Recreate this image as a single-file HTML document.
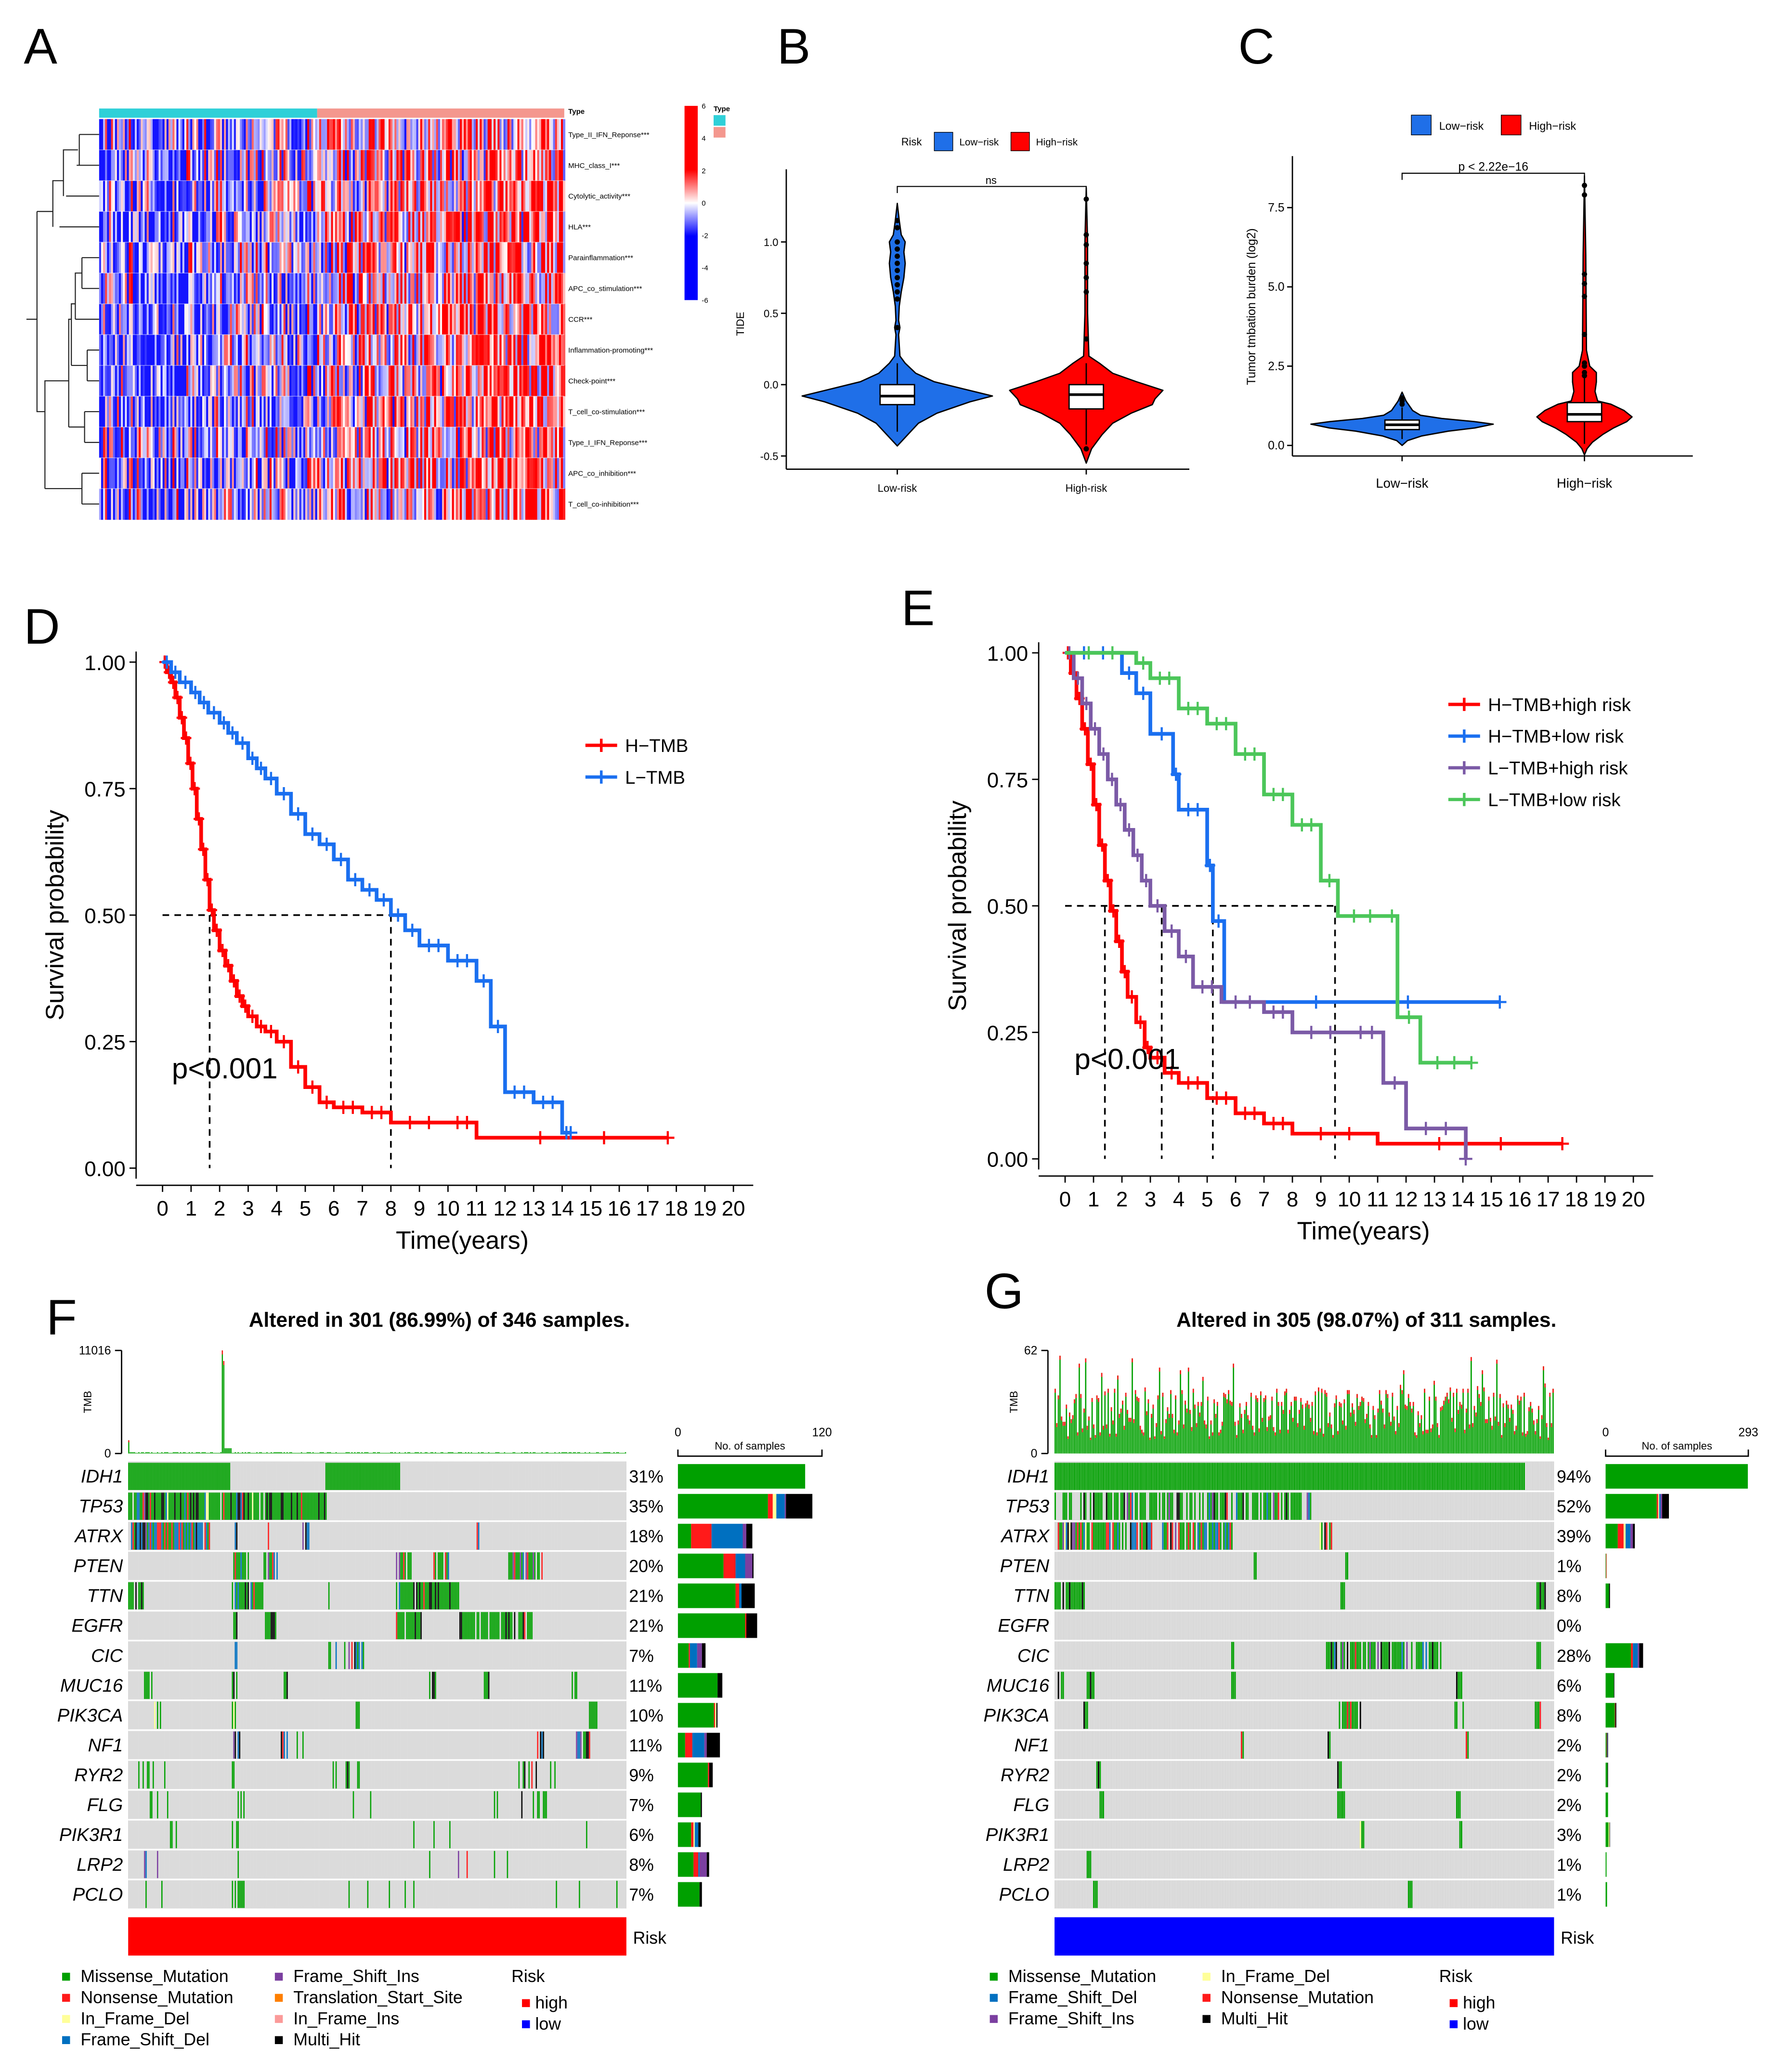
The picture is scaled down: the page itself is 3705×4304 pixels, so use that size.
<!DOCTYPE html>
<html><head><meta charset="utf-8">
<style>
html,body{margin:0;padding:0;background:#fff;}
svg{display:block;font-family:"Liberation Sans",Arial,sans-serif;}
</style></head>
<body>
<svg id="fig" width="3705" height="4304" viewBox="0 0 1350 1568" xmlns="http://www.w3.org/2000/svg">
<rect width="1350" height="1568" fill="#fff"/>
<text x="18" y="48" font-size="38">A</text>
<text x="588" y="48" font-size="38">B</text>
<text x="937" y="48" font-size="38">C</text>
<text x="18" y="487" font-size="38">D</text>
<text x="682" y="473" font-size="38">E</text>
<text x="35" y="1010" font-size="38">F</text>
<text x="745" y="990" font-size="38">G</text>
<g id="gA"></g>
<g id="gB"></g>
<g id="gC"></g>
<g id="gD"></g>
<g id="gE"></g>
<g id="gF"></g>
<g id="gG"></g>
</svg>
<script>
// ---------- data ----------
const heatRows=["Type_II_IFN_Reponse***","MHC_class_I***","Cytolytic_activity***","HLA***","Parainflammation***","APC_co_stimulation***","CCR***","Inflammation-promoting***","Check-point***","T_cell_co-stimulation***","Type_I_IFN_Reponse***","APC_co_inhibition***","T_cell_co-inhibition***"];
const heatLowMean=[-1.2,-1.0,-1.3,-1.4,-1.1,-1.3,-1.2,-1.3,-1.4,-1.3,-0.9,-1.3,-1.4];
const heatHighMean=[1.1,1.0,1.2,1.3,1.0,1.2,1.1,1.2,1.3,1.2,0.9,1.2,1.3];
const heatTicks=[6,4,2,0,-2,-4,-6];
const bTicks=[1.0,0.5,0.0,-0.5];
const cTicks=[7.5,5.0,2.5,0.0];
const dTicks=[0,0.25,0.5,0.75,1.0];
const years=[...Array(21).keys()];
const kmD_H_t=[0,0.15,0.3,0.45,0.6,0.75,0.9,1.05,1.2,1.35,1.5,1.65,1.8,2,2.2,2.4,2.6,2.8,3,3.3,3.6,4,4.5,5,5.5,6,7,8,10,11,17.7];
const kmD_H_s=[1,0.98,0.96,0.93,0.89,0.85,0.8,0.75,0.69,0.63,0.57,0.51,0.47,0.43,0.4,0.37,0.34,0.32,0.3,0.28,0.27,0.25,0.2,0.16,0.13,0.12,0.11,0.09,0.09,0.06,0.06];
const kmD_L_t=[0,0.3,0.6,1,1.3,1.6,2,2.3,2.6,3,3.3,3.6,4,4.5,5,5.5,6,6.5,7,7.5,8,8.5,9,10,11,11.5,12,13,14,14.3];
const kmD_L_s=[1,0.98,0.96,0.94,0.92,0.9,0.88,0.86,0.84,0.81,0.79,0.77,0.74,0.7,0.66,0.64,0.61,0.57,0.55,0.53,0.5,0.47,0.44,0.41,0.37,0.28,0.15,0.13,0.07,0.07];
const kmE_HH_t=[0,0.2,0.4,0.6,0.8,1,1.2,1.4,1.6,1.8,2,2.2,2.5,2.8,3,3.5,4,5,6,7,8,11,17.5];
const kmE_HH_s=[1,0.96,0.91,0.85,0.78,0.7,0.62,0.55,0.49,0.43,0.37,0.32,0.27,0.22,0.2,0.17,0.15,0.12,0.09,0.07,0.05,0.03,0.03];
const kmE_HL_t=[0,2,2.5,3,3.8,4,5,5.2,5.6,15.3];
const kmE_HL_s=[1,0.96,0.92,0.84,0.76,0.69,0.58,0.47,0.31,0.31];
const kmE_LH_t=[0,0.3,0.6,0.9,1.2,1.5,1.8,2.1,2.4,2.7,3,3.5,4,4.5,5.5,7,8,10,11.2,12,14.1];
const kmE_LH_s=[1,0.95,0.9,0.85,0.8,0.75,0.7,0.65,0.6,0.55,0.5,0.45,0.4,0.34,0.31,0.29,0.25,0.25,0.15,0.06,0.0];
const kmE_LL_t=[0,2.5,3,4,5,6,7,8,9,9.6,11.3,11.7,12.5,14.3];
const kmE_LL_s=[1,0.98,0.95,0.89,0.86,0.8,0.72,0.66,0.55,0.48,0.48,0.28,0.19,0.19];
const genes=["IDH1","TP53","ATRX","PTEN","TTN","EGFR","CIC","MUC16","PIK3CA","NF1","RYR2","FLG","PIK3R1","LRP2","PCLO"];
const pctF=["31%","35%","18%","20%","21%","21%","7%","11%","10%","11%","9%","7%","6%","8%","7%"];
const pctG=["94%","52%","39%","1%","8%","0%","28%","6%","8%","2%","2%","2%","3%","1%","1%"];
const sideF=[[106,0,0,0,0,0],[75,4,3,7,1,22],[11,17,0,26,3,5],[38,10,0,8,6,1],[48,3,0,2,0,11],[56,1,0,0,0,9],[9,1,0,6,4,3],[33,0,0,0,0,4],[30,1,1,0,0,1],[6,6,0,10,2,11],[25,1,0,0,0,3],[19,0,0,0,0,1],[11,2,1,3,0,2],[13,4,0,1,6,2],[18,0,0,0,0,2]];
const sideG=[[292,0,0,0,0,0],[105,3,2,3,3,14],[25,12,4,10,5,4],[1,1,0,0,0,0],[7,0,0,0,0,2],[0,0,0,0,0,0],[52,4,0,10,3,8],[17,0,0,0,0,1],[19,1,0,0,0,2],[2,1,0,1,0,1],[4,0,0,0,0,1],[5,0,0,0,0,0],[6,0,2,0,0,1],[2,0,0,0,0,0],[3,0,0,0,0,0]];
const blocksF=[[[0,70,1],[137,188,1]],[[0,137,0.95]],[[0,56,0.9],[72,75,0.8],[96,100,0.6],[116,125,0.5],[242,243,1]],[[72,83,0.6],[94,104,0.8],[186,196,0.8],[212,224,0.7],[264,287,0.8]],[[0,10,0.9],[72,93,0.9],[137,142,0.6],[186,230,0.9]],[[72,75,0.6],[95,102,0.9],[186,203,0.9],[230,280,0.9]],[[72,75,0.6],[139,170,0.35]],[[11,16,0.7],[72,75,0.5],[106,110,0.3],[207,213,0.5],[245,250,0.5],[307,311,0.5]],[[18,22,0.7],[72,75,0.5],[155,160,0.5],[319,326,0.8]],[[72,78,0.4],[106,124,0.3],[284,290,0.6],[311,320,0.6]],[[6,25,0.2],[72,75,0.5],[140,160,0.2],[270,300,0.2]],[[4,30,0.15],[72,80,0.4],[150,170,0.2],[250,290,0.15]],[[20,40,0.15],[72,80,0.3],[180,230,0.1],[290,320,0.1]],[[10,20,0.2],[72,80,0.4],[200,270,0.12]],[[10,30,0.1],[72,80,0.6],[150,200,0.12],[280,340,0.05]]];
const blocksG=[[[0,292,1]],[[0,160,0.65]],[[0,110,0.75],[165,172,0.7]],[[124,125,1],[181,182,1]],[[0,18,0.9],[178,180,1],[300,305,0.8]],[],[[110,111,1],[168,240,0.7],[298,304,0.6]],[[2,5,0.8],[20,24,0.6],[110,112,1],[250,253,1]],[[18,20,1],[177,190,0.7],[249,254,0.5],[298,302,0.6]],[[116,117,1],[170,171,1],[256,257,1]],[[26,28,1],[176,178,1]],[[28,30,1],[176,180,1],[250,252,1]],[[190,192,1],[250,254,0.6]],[[20,22,1]],[[24,26,1],[220,222,1]]];
const typeColors=["#00A000","#FF1A1A","#FFFF99","#0070C0","#7B3FA0","#000000"];

const NS="http://www.w3.org/2000/svg";
function el(parent,tag,attrs,txt){const e=document.createElementNS(NS,tag);for(const k in attrs)e.setAttribute(k,attrs[k]);if(txt!==undefined)e.textContent=txt;parent.appendChild(e);return e;}
function hash(a,b){let h=(a*374761393+b*668265263)^0x5bd1e995;h=(h^(h>>>13))*1274126177;h=h^(h>>>16);return ((h>>>0)%10000)/10000;}

(function(){
 const g=document.getElementById('gA');
 const x0=75,x1=427,yTop=90,yBot=393,split=240;
 const rh=(yBot-yTop)/heatRows.length;
 let r=el(g,'rect',{x:x0,y:82,width:split-x0,height:7,fill:'#2FD0D8'});
 
 r=el(g,'rect',{x:split,y:82,width:x1-split,height:7,fill:'#F4978E'});
 
 const cw=1.5;const ncol=Math.round((x1-x0)/cw);
 function col(v){v=Math.max(-6,Math.min(6,v));let t=Math.min(1,Math.abs(v)/2.2);
  if(v>=0)return `rgb(255,${Math.round(255*(1-t))},${Math.round(255*(1-t))})`;
  return `rgb(${Math.round(255*(1-t)*0.9+20*t)},${Math.round(255*(1-t)*0.9+20*t)},255)`;}
 heatRows.forEach((name,i)=>{
  const gr=el(g,'g',{});
  
  for(let c=0;c<ncol;c++){
   const x=x0+c*cw;const hi=x>=split;
   const prog=hi?(x-split)/(x1-split):(x-x0)/(split-x0);
   const base=hi?heatHighMean[i]*(0.3+prog*0.9):heatLowMean[i]*(1-prog*0.5);
   const v=base+(hash(c,i)-0.5)*5+(hash(c,99)-0.5)*2.5;
   el(gr,'rect',{x:x.toFixed(2),y:(yTop+i*rh).toFixed(2),width:cw+0.3,height:rh+0.3,fill:col(v)});
  }
  const t=el(g,'text',{x:430,y:yTop+i*rh+rh/2+2,'font-size':5.5},name);
  
 });
 for(let i=1;i<heatRows.length;i++)el(g,'line',{x1:x0,x2:x1,y1:yTop+i*rh,y2:yTop+i*rh,stroke:'#fff','stroke-width':0.5,opacity:0.5});
 const yc=i=>yTop+i*rh+rh/2;
 const d=el(g,'path',{fill:'none',stroke:'#222','stroke-width':0.8,
  d:`M75 ${yc(0)}H60M75 ${yc(1)}H58M60 ${yc(0)}V${yc(1)}M75 ${yc(2)}H50M59 ${(yc(0)+yc(1))/2}H48V${yc(2)}M75 ${yc(3)}H45M48 ${(yc(1)+yc(2))/2}H40V${yc(3)}
  M75 ${yc(4)}H62M75 ${yc(5)}H62M62 ${yc(4)}V${yc(5)}M75 ${yc(6)}H57M62 ${(yc(4)+yc(5))/2}H57V${yc(6)}M75 ${yc(7)}H66M75 ${yc(8)}H66M66 ${yc(7)}V${yc(8)}M66 ${(yc(7)+yc(8))/2}H54M57 ${(yc(5)+yc(6))/2}H54V${(yc(7)+yc(8))/2}
  M75 ${yc(9)}H64M75 ${yc(10)}H64M64 ${yc(9)}V${yc(10)}M64 ${(yc(9)+yc(10))/2}H52M54 ${yc(6)}H52V${(yc(9)+yc(10))/2}
  M75 ${yc(11)}H62M75 ${yc(12)}H62M62 ${yc(11)}V${yc(12)}M62 ${(yc(11)+yc(12))/2}H34M52 ${yc(8)}H34V${(yc(11)+yc(12))/2}
  M40 ${(yc(2)+yc(3))/2}H28M34 ${yc(9)}H28V${(yc(2)+yc(3))/2}M28 ${yc(6)}H20`});
 
 el(g,'text',{x:430,y:86,'font-size':5.5,'font-weight':'bold'},'Type');
 const defs=el(g,'defs',{});
 const lg=el(defs,'linearGradient',{id:'hg',x1:0,y1:0,x2:0,y2:1});
 [['0','#FF0000'],['0.33','#FF0000'],['0.5','#FFFFFF'],['0.67','#0000FF'],['1','#0000FF']].forEach(s=>el(lg,'stop',{offset:s[0],'stop-color':s[1]}));
 const cb=el(g,'rect',{x:518,y:80,width:10,height:147,fill:'url(#hg)'});
 
 heatTicks.forEach(v=>{const y=80+(6-v)/12*147;el(g,'text',{x:531,y:y+2,'font-size':5.5},String(v));});
 el(g,'text',{x:540,y:84,'font-size':5.5,'font-weight':'bold'},'Type');
 el(g,'rect',{x:540,y:87,width:9,height:8,fill:'#2FD0D8'});
 el(g,'rect',{x:540,y:96,width:9,height:8,fill:'#F4978E'});
})();

function violin(g,cx,ys,prof,fill,name){
 let l='',r='';prof.forEach((p,i)=>{l+=(i?'L':'M')+(cx-p[1]).toFixed(1)+' '+ys(p[0]).toFixed(1);});
 for(let i=prof.length-1;i>=0;i--)r+='L'+(cx+prof[i][1]).toFixed(1)+' '+ys(prof[i][0]).toFixed(1);
 const p=el(g,'path',{d:l+r+'Z',fill:fill,stroke:'#000','stroke-width':1,'stroke-linejoin':'round'});
 
}
function boxp(g,cx,ys,lo,q1,med,q3,hi,w,name){
 el(g,'line',{x1:cx,x2:cx,y1:ys(lo),y2:ys(hi),stroke:'#000','stroke-width':1});
 const b=el(g,'rect',{x:cx-w/2,y:ys(q3),width:w,height:ys(q1)-ys(q3),fill:'#fff',stroke:'#000','stroke-width':1});
 
 el(g,'line',{x1:cx-w/2,x2:cx+w/2,y1:ys(med),y2:ys(med),stroke:'#000','stroke-width':2});
}
(function(){
 const g=document.getElementById('gB');const ys=v=>291-v*108;
 el(g,'line',{x1:595,x2:595,y1:128,y2:355,stroke:'#000'});
 el(g,'line',{x1:595,x2:900,y1:355,y2:355,stroke:'#000'});
 bTicks.forEach(v=>{el(g,'line',{x1:591,x2:595,y1:ys(v),y2:ys(v),stroke:'#000'});el(g,'text',{x:589,y:ys(v)+3,'font-size':8,'text-anchor':'end'},v.toFixed(1));});
 el(g,'text',{x:563,y:245,'font-size':8,transform:'rotate(-90 563 245)','text-anchor':'middle'},'TIDE');
 [[679,'Low-risk'],[822,'High-risk']].forEach(a=>{el(g,'line',{x1:a[0],x2:a[0],y1:355,y2:359,stroke:'#000'});el(g,'text',{x:a[0],y:372,'font-size':8,'text-anchor':'middle'},a[1]);});
 violin(g,679,ys,[[1.27,0],[1.15,1.5],[1.05,3],[1.0,6],[0.93,5],[0.85,6],[0.75,5],[0.65,3],[0.55,1.5],[0.45,1],[0.4,2],[0.35,1],[0.2,2],[0.15,6],[0.08,14],[0.02,28],[-0.03,50],[-0.08,72],[-0.12,55],[-0.2,30],[-0.27,16],[-0.35,8],[-0.43,0]],'#1f6fe8','violin-low-risk');
 violin(g,822,ys,[[1.38,0],[1.0,1],[0.5,1],[0.2,2],[0.15,10],[0.08,20],[0.02,38],[-0.04,58],[-0.1,52],[-0.14,50],[-0.2,34],[-0.27,20],[-0.35,12],[-0.45,4],[-0.55,0]],'#FF0000','violin-high-risk');
 boxp(g,679,ys,-0.33,-0.14,-0.08,0.0,0.15,26,'box-low-risk');
 boxp(g,822,ys,-0.42,-0.17,-0.07,0.0,0.15,26,'box-high-risk');
 [0.6,0.65,0.7,0.75,0.8,0.85,0.9,0.95,1.0,1.1,1.15,0.4].forEach(v=>el(g,'circle',{cx:679,cy:ys(v),r:2,fill:'#000'}));
 [1.3,1.05,0.98,0.85,0.75,0.65,0.32,-0.45].forEach(v=>el(g,'circle',{cx:822,cy:ys(v),r:2,fill:'#000'}));
 el(g,'path',{d:'M679 146V141H822V146',fill:'none',stroke:'#000','stroke-width':0.8});
 el(g,'text',{x:750,y:139,'font-size':8,'text-anchor':'middle'},'ns');
 el(g,'text',{x:682,y:110,'font-size':8},'Risk');
 el(g,'rect',{x:707,y:100,width:14,height:14,fill:'#1f6fe8',stroke:'#000','stroke-width':0.5});
 el(g,'text',{x:726,y:110,'font-size':7.5},'Low−risk');
 el(g,'rect',{x:765,y:100,width:14,height:14,fill:'#FF0000',stroke:'#000','stroke-width':0.5});
 el(g,'text',{x:784,y:110,'font-size':7.5},'High−risk');
})();
(function(){
 const g=document.getElementById('gC');const ys=v=>337-v*24;
 el(g,'line',{x1:978,x2:978,y1:118,y2:345,stroke:'#000'});
 el(g,'line',{x1:978,x2:1281,y1:345,y2:345,stroke:'#000'});
 cTicks.forEach(v=>{el(g,'line',{x1:974,x2:978,y1:ys(v),y2:ys(v),stroke:'#000'});el(g,'text',{x:972,y:ys(v)+3,'font-size':9,'text-anchor':'end'},v.toFixed(1));});
 el(g,'text',{x:950,y:232,'font-size':9,transform:'rotate(-90 950 232)','text-anchor':'middle'},'Tumor tmbation burden (log2)');
 [[1061,'Low−risk'],[1199,'High−risk']].forEach(a=>{el(g,'line',{x1:a[0],x2:a[0],y1:345,y2:349,stroke:'#000'});el(g,'text',{x:a[0],y:369,'font-size':10,'text-anchor':'middle'},a[1]);});
 violin(g,1061,ys,[[1.68,0],[1.4,3],[1.1,8],[0.95,14],[0.85,30],[0.75,55],[0.67,69],[0.55,55],[0.45,35],[0.3,15],[0.15,4],[0,0]],'#1f6fe8','violin-low-risk');
 violin(g,1199,ys,[[8.5,0],[6,1],[3,1.5],[2.5,4],[2.3,9],[2.0,9],[1.7,8],[1.4,10],[1.3,20],[1.1,30],[0.9,36],[0.75,32],[0.55,22],[0.35,14],[0.1,6],[-0.1,2],[-0.3,0]],'#FF0000','violin-high-risk');
 boxp(g,1061,ys,0.2,0.5,0.65,0.8,1.2,26,'box-low-risk');
 boxp(g,1199,ys,0.05,0.75,0.98,1.35,2.2,26,'box-high-risk');
 [1.3,1.4,1.5].forEach(v=>el(g,'circle',{cx:1061,cy:ys(v),r:2,fill:'#000'}));
 [8.2,7.9,5.4,5.1,4.7,3.5,2.6,2.5,2.3,2.2].forEach(v=>el(g,'circle',{cx:1199,cy:ys(v),r:2,fill:'#000'}));
 el(g,'path',{d:'M1061 136V131H1199V136',fill:'none',stroke:'#000','stroke-width':0.8});
 el(g,'text',{x:1130,y:129,'font-size':9,'text-anchor':'middle'},'p < 2.22e−16');
 el(g,'rect',{x:1068,y:87,width:15,height:15,fill:'#1f6fe8',stroke:'#000','stroke-width':0.5});
 el(g,'text',{x:1089,y:98,'font-size':8.5},'Low−risk');
 el(g,'rect',{x:1136,y:87,width:15,height:15,fill:'#FF0000',stroke:'#000','stroke-width':0.5});
 el(g,'text',{x:1157,y:98,'font-size':8.5},'High−risk');
})();

function kmPanel(g,o){
 const xs=t=>o.x0+t*o.px,ys=s=>o.y0-s*o.py;
 el(g,'line',{x1:o.axX,x2:o.axX,y1:ys(1)-8,y2:ys(0)+8,stroke:'#000','stroke-width':1});
 el(g,'line',{x1:o.axX,x2:xs(20)+15,y1:o.axY,y2:o.axY,stroke:'#000','stroke-width':1});
 dTicks.forEach(v=>{el(g,'line',{x1:o.axX-5,x2:o.axX,y1:ys(v),y2:ys(v),stroke:'#000'});el(g,'text',{x:o.axX-8,y:ys(v)+6,'font-size':16,'text-anchor':'end'},v.toFixed(2));});
 years.forEach(y=>{el(g,'line',{x1:xs(y),x2:xs(y),y1:o.axY,y2:o.axY+5,stroke:'#000'});el(g,'text',{x:xs(y),y:o.axY+23,'font-size':16,'text-anchor':'middle'},String(y));});
 el(g,'text',{x:xs(10.5),y:o.axY+48,'font-size':19,'text-anchor':'middle'},'Time(years)');
 const yl=(ys(0)+ys(1))/2;
 el(g,'text',{x:o.axX-55,y:yl,'font-size':19,transform:`rotate(-90 ${o.axX-55} ${yl})`,'text-anchor':'middle'},'Survival probability');
 el(g,'path',{d:o.dash(xs,ys),fill:'none',stroke:'#000','stroke-width':1.3,'stroke-dasharray':'5,4'});
 o.series.forEach(s=>{
  let d='M'+xs(s.t[0])+' '+ys(s.s[0]);
  for(let i=1;i<s.t.length;i++){d+='H'+xs(s.t[i]).toFixed(1)+'V'+ys(s.s[i]).toFixed(1);}
  const p=el(g,'path',{d:d,fill:'none',stroke:s.c,'stroke-width':2.8});
  
  let cd='';
  for(let i=0;i<s.t.length-1;i++){const dt=s.t[i+1]-s.t[i];const n=dt>=1?2:1;for(let k=0;k<n;k++){const tt=s.t[i]+dt*(k+1)/(n+1);cd+=`M${xs(tt).toFixed(1)} ${(ys(s.s[i])-5).toFixed(1)}v10M${(xs(tt)-4).toFixed(1)} ${ys(s.s[i]).toFixed(1)}h8`;}}
  const last=s.t.length-1;cd+=`M${xs(s.t[last])} ${ys(s.s[last])-5}v10M${xs(s.t[last])-5} ${ys(s.s[last])}h10`;
  el(g,'path',{d:cd,stroke:s.c,'stroke-width':1.6,fill:'none'});
 });
 el(g,'text',{x:o.pX,y:o.pY,'font-size':22},'p<0.001');
 o.series.forEach((s,i)=>{const y=o.legY+i*24;el(g,'line',{x1:o.legX,x2:o.legX+24,y1:y,y2:y,stroke:s.c,'stroke-width':2.5});el(g,'path',{d:`M${o.legX+12} ${y-5}v10`,stroke:s.c,'stroke-width':2});
  const t=el(g,'text',{x:o.legX+30,y:y+5,'font-size':14},s.label);});
}
kmPanel(document.getElementById('gD'),{x0:123,px:21.6,y0:884,py:383,axX:103,axY:897,pX:130,pY:816,legX:443,legY:564,
 dash:(xs,ys)=>`M${xs(0)} ${ys(0.5)}H${xs(8)}M${xs(1.65)} ${ys(0.5)}V${ys(0)}M${xs(8)} ${ys(0.5)}V${ys(0)}`,
 series:[{t:kmD_H_t,s:kmD_H_s,c:'#FF0000',n:'h-tmb',label:'H−TMB'},{t:kmD_L_t,s:kmD_L_s,c:'#1a6ff0',n:'l-tmb',label:'L−TMB'}]});
kmPanel(document.getElementById('gE'),{x0:806,px:21.5,y0:877,py:383,axX:786,axY:890,pX:813,pY:809,legX:1096,legY:533,
 dash:(xs,ys)=>`M${xs(0)} ${ys(0.5)}H${xs(9.5)}M${xs(1.4)} ${ys(0.5)}V${ys(0)}M${xs(3.4)} ${ys(0.5)}V${ys(0)}M${xs(5.2)} ${ys(0.5)}V${ys(0)}M${xs(9.5)} ${ys(0.5)}V${ys(0)}`,
 series:[{t:kmE_HH_t,s:kmE_HH_s,c:'#FF0000',n:'htmb-high',label:'H−TMB+high risk'},{t:kmE_HL_t,s:kmE_HL_s,c:'#1a6ff0',n:'htmb-low',label:'H−TMB+low risk'},{t:kmE_LH_t,s:kmE_LH_s,c:'#7B5AA6',n:'ltmb-high',label:'L−TMB+high risk'},{t:kmE_LL_t,s:kmE_LL_s,c:'#4CC65A',n:'ltmb-low',label:'L−TMB+low risk'}]});

function onco(g,o){
 const x0=o.x0,x1=o.x1,n=o.n,sw=(x1-x0)/n,top=1106,rh=22.6;
 el(g,'text',{x:(x0+x1)/2+47,y:1004,'font-size':15.5,'font-weight':'bold','text-anchor':'middle'},o.title);
 el(g,'line',{x1:x0-5,x2:x0-5,y1:1022,y2:1100,stroke:'#000'});
 el(g,'line',{x1:x0-10,x2:x0-5,y1:1022,y2:1022,stroke:'#000'});el(g,'line',{x1:x0-10,x2:x0-5,y1:1100,y2:1100,stroke:'#000'});
 el(g,'text',{x:x0-13,y:1025,'font-size':9,'text-anchor':'end'},o.tmbMax);
 el(g,'text',{x:x0-13,y:1103,'font-size':9,'text-anchor':'end'},'0');
 el(g,'text',{x:x0-28,y:1061,'font-size':8,transform:`rotate(-90 ${x0-28} 1061)`,'text-anchor':'middle'},'TMB');
 for(let i=0;i<n;i++){const h=o.tmb(i);if(h<=0)continue;const x=x0+i*sw;
  el(g,'rect',{x:x,y:1100-h,width:Math.max(sw*0.8,0.5),height:h,fill:'#00A000'});
  if(h>4)el(g,'rect',{x:x,y:1100-h,width:Math.max(sw*0.8,0.5),height:Math.min(3,h*0.15),fill:'#FF1A1A'});}
 const bg=el(g,'rect',{x:x0,y:top,width:x1-x0,height:rh*genes.length,fill:'#D6D6D6'});
 
 let vd='';for(let i=1;i<n;i+=1)vd+=`M${(x0+i*sw).toFixed(2)} ${top}v${rh*genes.length}`;
 el(g,'path',{d:vd,stroke:'#EDEDED','stroke-width':0.25});
 genes.forEach((gn,r)=>{
  const y=top+r*rh;const cnt=o.side[r];
  const w=cnt.slice();const tot=w.reduce((a,b)=>a+b,0);
  o.blocks[r].forEach((b,bi)=>{for(let s=b[0];s<=b[1];s++){if(hash(s+r*1000,bi+7)>b[2])continue;
   let u=hash(s,r+50)*tot,k=0;while(k<5&&u>w[k]){u-=w[k];k++;}
   el(g,'rect',{x:(x0+s*sw).toFixed(2),y:y+1,width:Math.max(sw*0.85,0.6),height:rh-2,fill:typeColors[k]});}});
  el(g,'line',{x1:x0,x2:x1,y1:y+rh,y2:y+rh,stroke:'#fff','stroke-width':1.2});
  const t=el(g,'text',{x:x0-4,y:y+16,'font-size':14,'font-style':'italic','text-anchor':'end'},gn);
  
  el(g,'text',{x:x1+2,y:y+16,'font-size':13},o.pct[r]);
  let bx=o.sx0;cnt.forEach((c,k)=>{if(!c)return;const bw=c/o.sMax*(o.sx1-o.sx0);
   const br=el(g,'rect',{x:bx,y:y+2,width:bw,height:rh-4,fill:typeColors[k]});bx+=bw;});
 });
 el(g,'path',{d:`M${o.sx0} 1097V1102H${o.sx1}V1097`,stroke:'#000',fill:'none'});
 el(g,'text',{x:o.sx0,y:1087,'font-size':9,'text-anchor':'middle'},'0');
 el(g,'text',{x:o.sx1,y:1087,'font-size':9,'text-anchor':'middle'},String(o.sMax));
 el(g,'text',{x:(o.sx0+o.sx1)/2,y:1097,'font-size':8,'text-anchor':'middle'},'No. of samples');
 const rb=el(g,'rect',{x:x0,y:1451,width:x1-x0,height:29,fill:o.riskCol});
 el(g,'text',{x:x1+5,y:1471,'font-size':13},'Risk');
 o.leg.forEach((it,i)=>{if(!it[0])return;const col=Math.floor(i/4),row=i%4;const lx=o.legX+col*161,ly=1500+row*16;
  el(g,'rect',{x:lx-14,y:ly-7,width:6,height:6,fill:it[1]});el(g,'text',{x:lx,y:ly,'font-size':13},it[0]);});
 el(g,'text',{x:o.legX+326,y:1500,'font-size':13},'Risk');
 el(g,'rect',{x:o.legX+334,y:1513,width:6,height:6,fill:'#FF0000'});el(g,'text',{x:o.legX+344,y:1520,'font-size':13},'high');
 el(g,'rect',{x:o.legX+334,y:1529,width:6,height:6,fill:'#0000FF'});el(g,'text',{x:o.legX+344,y:1536,'font-size':13},'low');
}
onco(document.getElementById('gF'),{x0:97,x1:474,n:346,title:'Altered in 301 (86.99%) of 346 samples.',tmbMax:'11016',
 tmb:i=>i===65?78:i===66?70:i===0?10:(i>66&&i<72?4:(hash(i,3)<0.5?1:0.5)),side:sideF,sMax:120,sx0:513,sx1:622,blocks:blocksF,pct:pctF,riskCol:'#FF0000',legX:61,
 leg:[['Missense_Mutation','#00A000'],['Nonsense_Mutation','#FF1A1A'],['In_Frame_Del','#FFFF99'],['Frame_Shift_Del','#0070C0'],['Frame_Shift_Ins','#7B3FA0'],['Translation_Start_Site','#FF7F00'],['In_Frame_Ins','#FB9A99'],['Multi_Hit','#000000']]});
onco(document.getElementById('gG'),{x0:798,x1:1176,n:311,title:'Altered in 305 (98.07%) of 311 samples.',tmbMax:'62',
 tmb:i=>Math.round(12+hash(i,11)*38+(hash(i,12)>0.9?25:0)),side:sideG,sMax:293,sx0:1215,sx1:1323,blocks:blocksG,pct:pctG,riskCol:'#0000FF',legX:763,
 leg:[['Missense_Mutation','#00A000'],['Frame_Shift_Del','#0070C0'],['Frame_Shift_Ins','#7B3FA0'],['','#fff'],['In_Frame_Del','#FFFF99'],['Nonsense_Mutation','#FF1A1A'],['Multi_Hit','#000000']]});
</script>
</body></html>
